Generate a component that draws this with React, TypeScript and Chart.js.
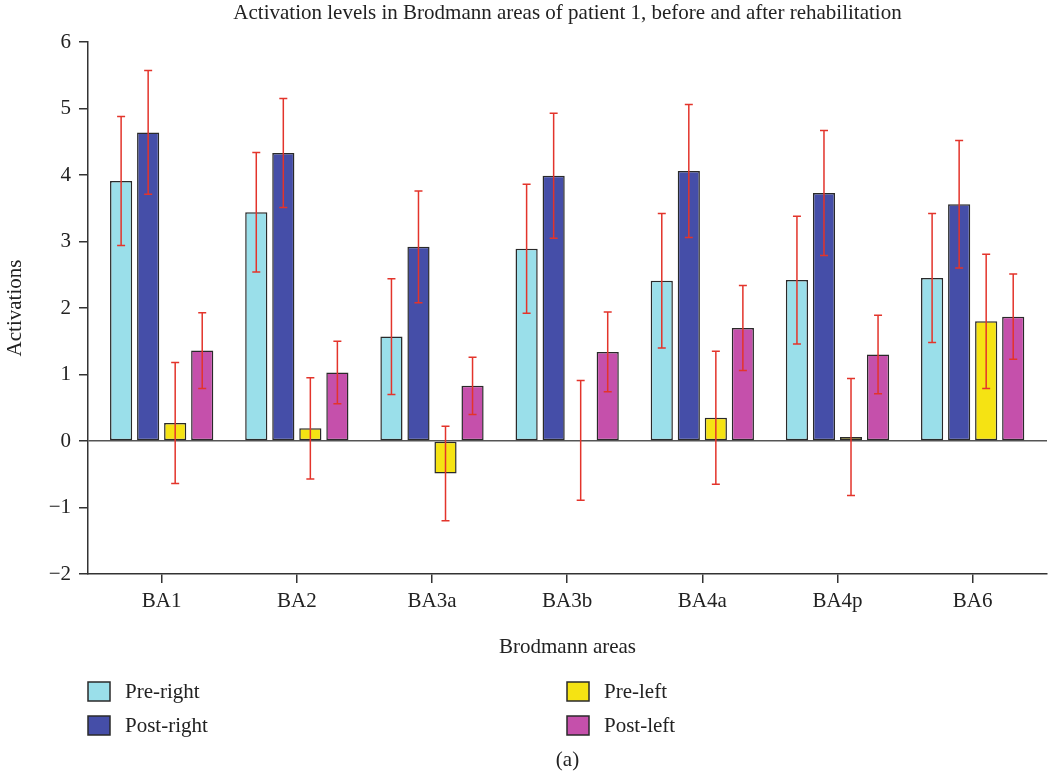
import React, { useEffect, useRef } from "react";
import { Chart, registerables } from "chart.js";

Chart.register(...registerables);

const categories = ["BA1", "BA2", "BA3a", "BA3b", "BA4a", "BA4p", "BA6"];
const seriesNames = ["Pre-right", "Post-right", "Pre-left", "Post-left"];
const preRight = [3.91, 3.44, 1.57, 2.89, 2.41, 2.42, 2.45];
const postRight = [4.64, 4.33, 2.92, 3.99, 4.06, 3.73, 3.56];
const preLeft = [0.27, 0.19, -0.49, 0.01, 0.35, 0.06, 1.8];
const postLeft = [1.36, 1.03, 0.83, 1.34, 1.7, 1.3, 1.87];
const preRightErr = [0.97, 0.9, 0.87, 0.97, 1.01, 0.96, 0.97];
const postRightErr = [0.93, 0.82, 0.84, 0.94, 1.0, 0.94, 0.96];
const preLeftErr = [0.91, 0.76, 0.71, 0.9, 1.0, 0.88, 1.01];
const postLeftErr = [0.57, 0.47, 0.43, 0.6, 0.64, 0.59, 0.64];
const yTicks = [-2, -1, 0, 1, 2, 3, 4, 5, 6];
const colors = ["#9adfea", "#454ea8", "#f5e313", "#c550ab"];

const titleText = "Activation levels in Brodmann areas of patient 1, before and after rehabilitation";
const FONT = "'Liberation Serif', 'DejaVu Serif', serif";
const FS = 21;

export default function App() {
  const ref = useRef<HTMLCanvasElement | null>(null);
  useEffect(() => {
    const canvas = ref.current;
    if (!canvas) return;
    const values = [preRight, postRight, preLeft, postLeft];
    const errs = [preRightErr, postRightErr, preLeftErr, postLeftErr];

    const errorBars = {
      id: "errorBars",
      afterDatasetsDraw(chart: any) {
        const ctx = chart.ctx;
        const y = chart.scales.y;
        ctx.save();
        ctx.strokeStyle = "#e3342b";
        ctx.lineWidth = 1.5;
        chart.data.datasets.forEach((ds: any, di: number) => {
          const meta = chart.getDatasetMeta(di);
          meta.data.forEach((bar: any, i: number) => {
            const v = values[di][i];
            const e = errs[di][i];
            const x = bar.x;
            const top = y.getPixelForValue(v + e);
            const bot = y.getPixelForValue(v - e);
            ctx.beginPath();
            ctx.moveTo(x, top);
            ctx.lineTo(x, bot);
            ctx.moveTo(x - 4, top);
            ctx.lineTo(x + 4, top);
            ctx.moveTo(x - 4, bot);
            ctx.lineTo(x + 4, bot);
            ctx.stroke();
          });
        });
        ctx.restore();
      },
    };

    const extras = {
      id: "extras",
      afterDraw(chart: any) {
        const ctx = chart.ctx;
        const area = chart.chartArea;
        const cx = (area.left + area.right) / 2;
        ctx.save();
        ctx.fillStyle = "#222";
        ctx.textAlign = "center";
        ctx.textBaseline = "middle";
        ctx.font = `${FS}px ${FONT}`;
        ctx.fillText(titleText, cx, 13);
        ctx.fillText("(a)", cx, 760);
        // legend
        const pos = [
          [88, 682],
          [88, 716],
          [567, 682],
          [567, 716],
        ];
        seriesNames.forEach((name, i) => {
          const [bx, by] = pos[i];
          ctx.fillStyle = colors[i];
          ctx.fillRect(bx, by, 22, 19);
          ctx.strokeStyle = "#2a2a2a";
          ctx.lineWidth = 1.5;
          ctx.strokeRect(bx, by, 22, 19);
          ctx.fillStyle = "#222";
          ctx.textAlign = "left";
          ctx.fillText(name, bx + 37, by + 10);
        });
        ctx.restore();
      },
    };

    const chart = new Chart(canvas, {
      type: "bar",
      data: {
        datasets: seriesNames.map((name, di) => ({
          label: name,
          data: values[di].map((v, i) => ({ x: i, y: v })),
          backgroundColor: colors[di],
          borderColor: "#2a2a2a",
          borderWidth: 1.5,
          borderSkipped: false,
          categoryPercentage: 0.8,
          barPercentage: 0.82,
        })),
      },
      options: {
        animation: false,
        responsive: false,
        maintainAspectRatio: false,
        layout: { padding: { top: 42, left: 0, right: 1, bottom: 110 } },
        plugins: {
          legend: { display: false },
          title: { display: false },
          tooltip: { enabled: false },
        },
        scales: {
          x: {
            type: "linear",
            min: -0.545,
            max: 6.55,
            offset: false,
            afterBuildTicks: (scale: any) => {
              scale.ticks = categories.map((_, i) => ({ value: i }));
            },
            afterFit: (scale: any) => {
              scale.height = 90;
            },
            ticks: {
              autoSkip: false,
              maxRotation: 0,
              padding: 6,
              color: "#222",
              font: { family: FONT, size: FS },
              callback: (v: any) => categories[Math.round(Number(v))] ?? "",
            },
            grid: {
              offset: false,
              drawOnChartArea: false,
              tickLength: 9,
              color: "#333",
              lineWidth: 1.5,
            },
            border: { display: true, color: "#333", width: 1.5 },
            title: {
              display: true,
              text: "Brodmann areas",
              color: "#222",
              font: { family: FONT, size: FS },
              padding: { top: 4, bottom: 4 },
            },
          },
          y: {
            min: -2,
            max: 6,
            afterBuildTicks: (scale: any) => {
              scale.ticks = yTicks.map((v) => ({ value: v }));
            },
            afterFit: (scale: any) => {
              scale.width = 88;
            },
            ticks: {
              padding: 8,
              color: "#222",
              font: { family: FONT, size: FS },
              callback: (v: any) => String(v).replace("-", "\u2212"),
            },
            grid: {
              drawOnChartArea: true,
              tickLength: 9,
              color: (c: any) => (c.tick && c.tick.value === 0 ? "#555" : "rgba(0,0,0,0)"),
              tickColor: "#333",
              lineWidth: 1.5,
            },
            border: { display: true, color: "#333", width: 1.5 },
            title: {
              display: true,
              text: "Activations",
              color: "#222",
              font: { family: FONT, size: FS },
              padding: { top: 3, bottom: 4 },
            },
          },
        },
      },
      plugins: [errorBars, extras],
    } as any);
    return () => chart.destroy();
  }, []);

  return (
    <div style={{ position: "fixed", left: 0, top: 0, width: 1048, height: 774, background: "#fff" }}>
      <canvas ref={ref} width={1048} height={774} style={{ width: 1048, height: 774 }} />
    </div>
  );
}
